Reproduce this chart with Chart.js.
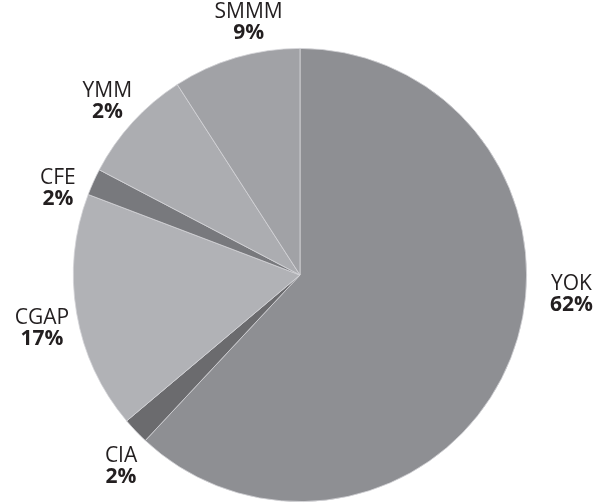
<!DOCTYPE html>
<html>
<head>
<meta charset="utf-8">
<script src="https://cdn.jsdelivr.net/npm/chart.js@4.4.1/dist/chart.umd.min.js"></script>
<style>
  html, body { margin: 0; padding: 0; background: #fff; }
  #wrap { width: 602px; height: 504px; position: relative; }
</style>
</head>
<body>
<div id="wrap"><canvas id="pieChart" width="602" height="504"></canvas></div>
<script>
// ---- data (clockwise from 12 o'clock) ----
const categories = ['YOK', 'CIA', 'CGAP', 'CFE', 'YMM', 'SMMM'];
const sliceValues = [61.9, 1.9, 16.9, 1.9, 8.2, 9.1];
const percentLabels = ['62%', '2%', '17%', '2%', '2%', '9%'];

// ---- style ----
const sliceColors = ['#8e8f93', '#6b6b6e', '#b1b2b6', '#78797d', '#acadb1', '#a1a2a6'];
// label placement: distance from centre and angle shift (deg) from slice middle
const labelDist = [272, 260, 263, 258, 261, 260];
const labelShift = [-18, -3, -1.5, -4, 0, 5];

const outsideLabels = {
  id: 'outsideLabels',
  afterDatasetsDraw(chart) {
    const ctx = chart.ctx;
    const arcs = chart.getDatasetMeta(0).data;
    ctx.save();
    ctx.fillStyle = '#231f20';
    ctx.textAlign = 'center';
    ctx.textBaseline = 'middle';
    arcs.forEach((arc, i) => {
      const mid = (arc.startAngle + arc.endAngle) / 2 + labelShift[i] * Math.PI / 180;
      const x = arc.x + Math.cos(mid) * labelDist[i];
      const y = arc.y + Math.sin(mid) * labelDist[i] + 2;
      ctx.font = '21px "Open Sans"';
      ctx.fillText(categories[i], x, y - 10);
      ctx.font = 'bold 21px "Open Sans"';
      ctx.fillText(percentLabels[i], x, y + 11);
    });
    ctx.restore();
  }
};

new Chart(document.getElementById('pieChart'), {
  type: 'pie',
  data: {
    labels: categories,
    datasets: [{
      data: sliceValues,
      backgroundColor: sliceColors,
      borderColor: '#d4d4d8',
      borderWidth: 0.8,
      hoverOffset: 0,
      offset: 0
    }]
  },
  options: {
    responsive: false,
    animation: false,
    layout: { padding: { top: 48, bottom: 2, left: 73, right: 75 } },
    plugins: {
      legend: { display: false },
      tooltip: { enabled: false }
    }
  },
  plugins: [outsideLabels]
});
</script>
</body>
</html>
